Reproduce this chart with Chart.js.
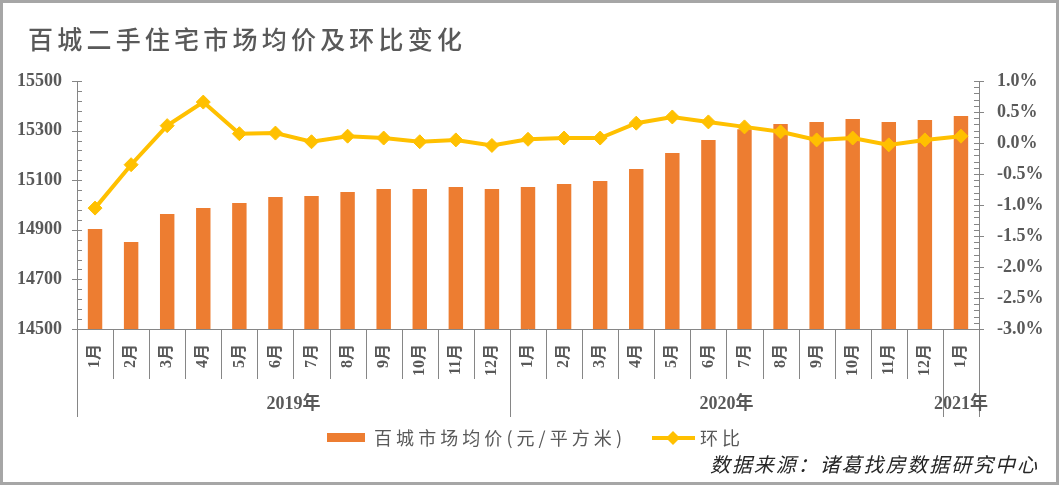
<!DOCTYPE html>
<html>
<head>
<meta charset="utf-8">
<script src="https://cdn.jsdelivr.net/npm/chart.js@4.4.1/dist/chart.umd.min.js"></script>
<style>
html,body{margin:0;padding:0;background:#fff;}
#wrap{position:relative;width:1059px;height:485px;}
canvas{display:block;}
</style>
</head>
<body>
<div id="wrap"><canvas id="c" width="1059" height="485"></canvas></div>
<script>
// ---- data ----
const months = ['1月','2月','3月','4月','5月','6月','7月','8月','9月','10月','11月','12月',
                '1月','2月','3月','4月','5月','6月','7月','8月','9月','10月','11月','12月','1月'];
const yearLabels = ['2019年','2020年','2021年'];
const yearSpans = [12, 12, 1];
const avgPrice = [14903,14851,14964,14988,15008,15032,15036,15052,15065,15065,15073,15065,
                  15073,15085,15097,15145,15210,15262,15305,15327,15335,15347,15335,15343,15359];
const momChange = [-1.05,-0.35,0.28,0.66,0.15,0.16,0.02,0.11,0.08,0.02,0.05,-0.04,
                   0.06,0.08,0.08,0.32,0.42,0.34,0.26,0.18,0.05,0.08,-0.03,0.05,0.11];
const titleText = '百城二手住宅市场均价及环比变化';
const barLegend = '百城市场均价(元/平方米)';
const lineLegend = '环比';
const sourceText = '数据来源：诸葛找房数据研究中心';

const GRAY = '#868686';
const TXT = '#595959';
const SERIF = '"Liberation Serif","Noto Sans CJK SC"';
const CJK = '"Noto Sans CJK SC"';

function drawSpaced(ctx, text, x, y, target) {
  const chars = Array.from(text);
  const ws = chars.map(c => ctx.measureText(c).width);
  const nat = ws.reduce((a, b) => a + b, 0);
  const extra = chars.length > 1 ? (target - nat) / (chars.length - 1) : 0;
  let cx = x;
  ctx.textAlign = 'left';
  chars.forEach((c, i) => { ctx.fillText(c, cx, y); cx += ws[i] + extra; });
}

const decor = {
  id: 'decor',
  afterDraw(chart) {
    const ctx = chart.ctx;
    const xs = chart.scales.x, yl = chart.scales.y, yr = chart.scales.y1;
    const L = chart.chartArea.left, R = chart.chartArea.right, B = chart.chartArea.bottom;
    ctx.save();
    // outer border
    ctx.strokeStyle = '#a6a6a6';
    ctx.lineWidth = 3;
    ctx.strokeRect(1.5, 1.5, chart.width - 3, chart.height - 3);

    // title
    ctx.fillStyle = TXT;
    ctx.font = '500 25px ' + CJK;
    ctx.textBaseline = 'middle';
    drawSpaced(ctx, titleText, 28, 39, 434);

    // y ticks
    ctx.strokeStyle = GRAY;
    ctx.lineWidth = 1;
    ctx.beginPath();
    for (let v = yl.min; v <= yl.max + 0.001; v += 40) {
      const py = Math.round(yl.getPixelForValue(v)) + 0.5;
      const major = Math.abs((v - yl.min) % 200) < 0.001;
      ctx.moveTo(major ? L - 5 : L, py);
      ctx.lineTo(L + 5, py);
    }
    for (let k = 0; k <= 40; k++) {
      const v = yr.min + k * 0.1;
      const py = Math.round(yr.getPixelForValue(v)) + 0.5;
      const major = k % 5 === 0;
      ctx.moveTo(R - 5, py);
      ctx.lineTo(major ? R + 5 : R, py);
    }
    // category separators
    const cw = (R - L) / months.length;
    let acc = 0;
    const yearBounds = [0];
    yearSpans.forEach(s => { acc += s; yearBounds.push(acc); });
    for (let i = 0; i <= months.length; i++) {
      const px = Math.round(L + i * cw) + 0.5;
      const isYear = yearBounds.includes(i);
      ctx.moveTo(px, B);
      ctx.lineTo(px, isYear ? 417 : 379);
    }
    ctx.stroke();

    // year labels
    ctx.fillStyle = TXT;
    ctx.font = 'bold 18px ' + SERIF;
    ctx.textAlign = 'center';
    ctx.textBaseline = 'middle';
    yearLabels.forEach((t, i) => {
      const cx = L + (yearBounds[i] + yearBounds[i + 1]) / 2 * cw;
      ctx.fillText(t, cx, 404);
    });

    // legend
    ctx.fillStyle = '#ED7D31';
    ctx.fillRect(327, 433, 38, 9);
    ctx.fillStyle = TXT;
    ctx.font = '18px ' + CJK;
    ctx.textBaseline = 'middle';
    drawSpaced(ctx, barLegend, 374, 438, 248);
    ctx.strokeStyle = '#FFC000';
    ctx.lineWidth = 4;
    ctx.beginPath();
    ctx.moveTo(652, 438); ctx.lineTo(695, 438);
    ctx.stroke();
    ctx.fillStyle = '#FFC000';
    ctx.beginPath();
    ctx.moveTo(673, 431); ctx.lineTo(680, 438); ctx.lineTo(673, 445); ctx.lineTo(666, 438);
    ctx.closePath(); ctx.fill();
    ctx.fillStyle = TXT;
    drawSpaced(ctx, lineLegend, 700, 438, 40);

    // source
    ctx.fillStyle = '#262626';
    ctx.font = 'italic 20px ' + CJK;
    drawSpaced(ctx, sourceText, 710, 464, 327);
    ctx.restore();
  }
};

new Chart(document.getElementById('c'), {
  data: {
    labels: months,
    datasets: [
      {
        type: 'line', label: lineLegend, data: momChange, yAxisID: 'y1',
        borderColor: '#FFC000', backgroundColor: '#FFC000', borderWidth: 4,
        pointStyle: 'rectRot', pointRadius: 7, pointBackgroundColor: '#FFC000',
        pointBorderColor: '#FFC000', pointBorderWidth: 1, tension: 0, order: 1
      },
      {
        type: 'bar', label: barLegend, data: avgPrice, yAxisID: 'y',
        backgroundColor: '#ED7D31', barPercentage: 0.4, categoryPercentage: 1.0, order: 2
      }
    ]
  },
  options: {
    responsive: false, animation: false, devicePixelRatio: 1,
    layout: { padding: { top: 81, left: 0, right: 0, bottom: 0 } },
    plugins: { legend: { display: false }, title: { display: false }, tooltip: { enabled: false } },
    scales: {
      x: {
        type: 'category', offset: true,
        grid: { display: false, drawTicks: false },
        border: { display: true, color: GRAY },
        ticks: {
          autoSkip: false, minRotation: 90, maxRotation: 90, padding: 15,
          color: TXT, font: { family: '"Liberation Serif","Noto Sans CJK SC"', size: 16, weight: 'bold' }
        },
        afterFit(s) { s.height = 156; }
      },
      y: {
        position: 'left', min: 14500, max: 15500,
        grid: { display: false, drawTicks: false },
        border: { display: true, color: GRAY },
        ticks: {
          stepSize: 200, padding: 15, color: TXT,
          font: { family: '"Liberation Serif"', size: 18, weight: 'bold' },
          callback: v => String(v)
        },
        afterFit(s) { s.width = 77; }
      },
      y1: {
        position: 'right', min: -3, max: 1,
        grid: { display: false, drawTicks: false },
        border: { display: true, color: GRAY },
        ticks: {
          stepSize: 0.5, padding: 18, color: TXT,
          font: { family: '"Liberation Serif"', size: 18, weight: 'bold' },
          callback: v => v.toFixed(1) + '%'
        },
        afterFit(s) { s.width = 80; }
      }
    }
  },
  plugins: [decor]
});
</script>
</body>
</html>
